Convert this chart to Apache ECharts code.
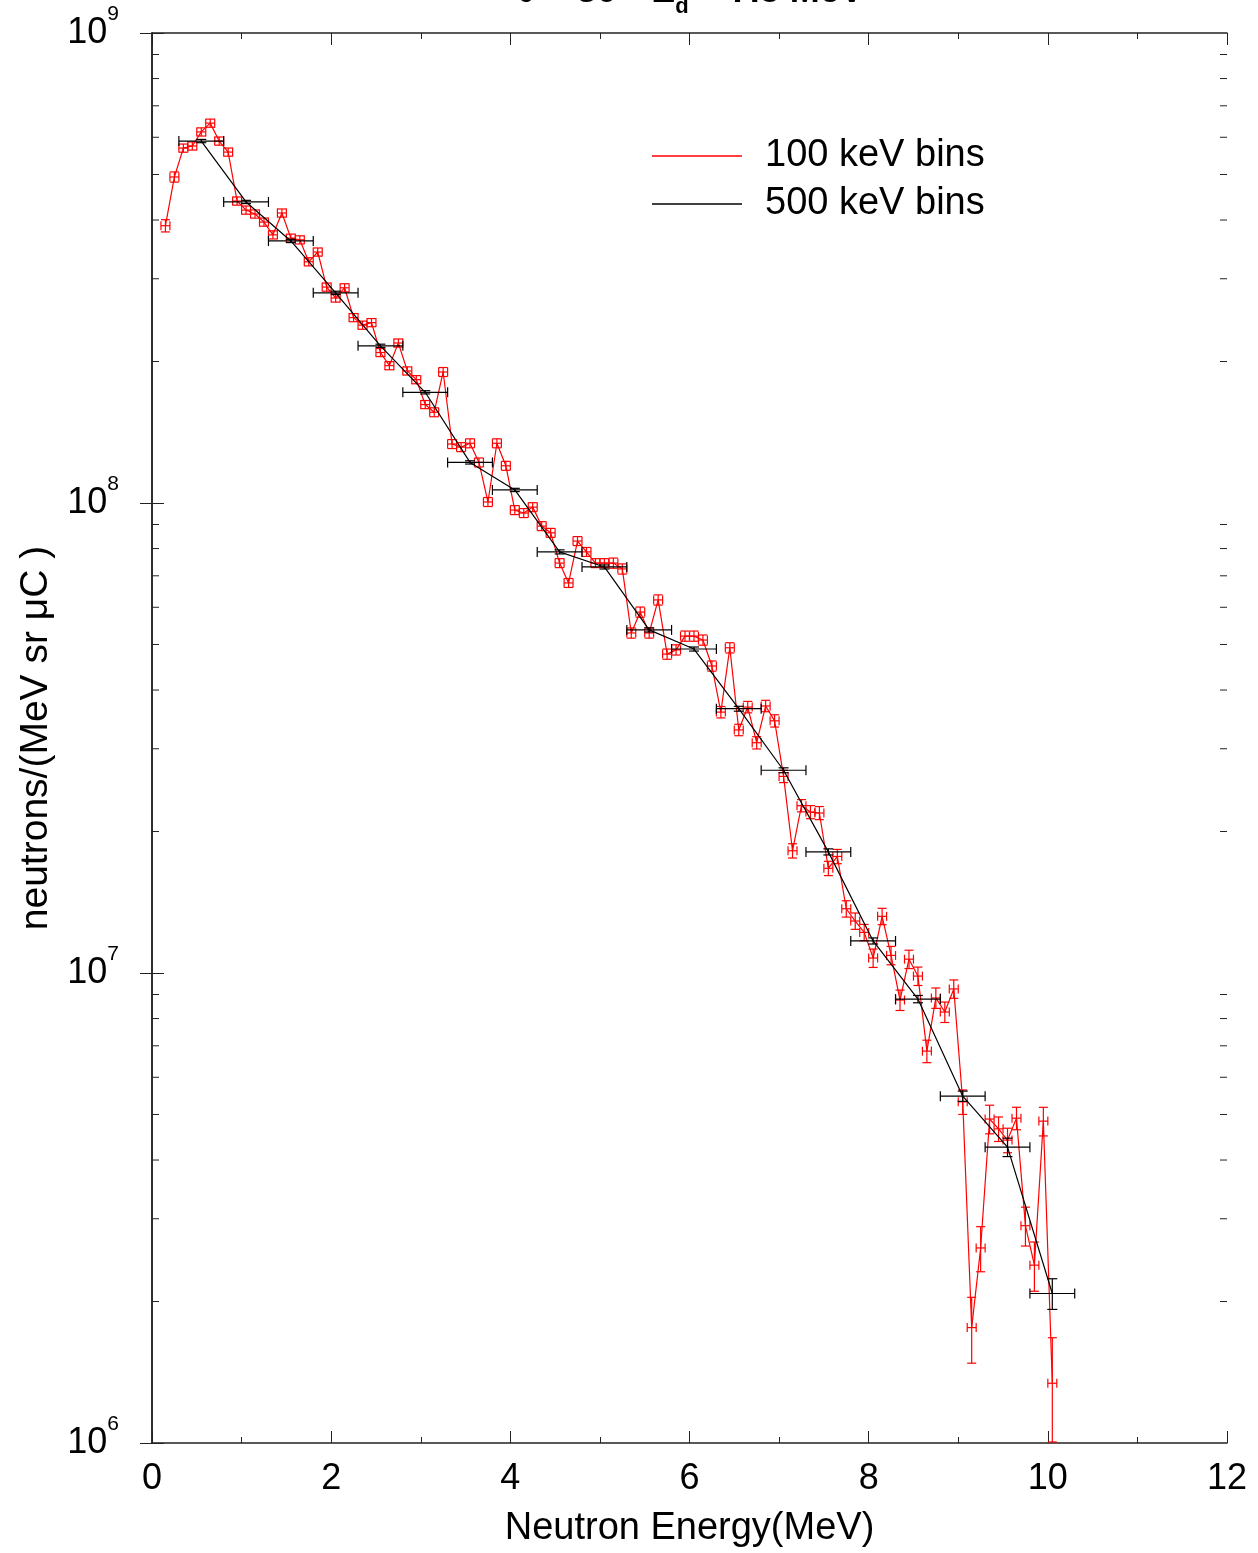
<!DOCTYPE html>
<html>
<head>
<meta charset="utf-8">
<script src="https://cdn.jsdelivr.net/npm/echarts@6/dist/echarts.min.js"></script>
<style>
  html, body { margin: 0; padding: 0; background: #fff; }
  #chart { width: 1258px; height: 1553px; }
</style>
</head>
<body>
<div id="chart"></div>
<script>
// 100 keV bins (red)
const redE = [
  0.15, 0.25, 0.35, 0.45, 0.55, 0.65, 0.75, 0.85, 0.95, 1.05,
  1.15, 1.25, 1.35, 1.45, 1.55, 1.65, 1.75, 1.85, 1.95, 2.05,
  2.15, 2.25, 2.35, 2.45, 2.55, 2.65, 2.75, 2.85, 2.95, 3.05,
  3.15, 3.25, 3.35, 3.45, 3.55, 3.65, 3.75, 3.85, 3.95, 4.05,
  4.15, 4.25, 4.35, 4.45, 4.55, 4.65, 4.75, 4.85, 4.95, 5.05,
  5.15, 5.25, 5.35, 5.45, 5.55, 5.65, 5.75, 5.85, 5.95, 6.05,
  6.15, 6.25, 6.35, 6.45, 6.55, 6.65, 6.75, 6.85, 6.95, 7.05,
  7.15, 7.25, 7.35, 7.45, 7.55, 7.65, 7.75, 7.85, 7.95, 8.05,
  8.15, 8.25, 8.35, 8.45, 8.55, 8.65, 8.75, 8.85, 8.95, 9.05,
  9.15, 9.25, 9.35, 9.45, 9.55, 9.65, 9.75, 9.85, 9.95, 10.05
]
const redY = [
  3.89e8, 4.94e8, 5.69e8, 5.75e8, 6.16e8, 6.43e8, 5.89e8, 5.58e8, 4.39e8, 4.20e8,
  4.12e8, 3.96e8, 3.72e8, 4.14e8, 3.66e8, 3.63e8, 3.26e8, 3.42e8, 2.88e8, 2.73e8,
  2.87e8, 2.48e8, 2.39e8, 2.42e8, 2.09e8, 1.96e8, 2.19e8, 1.91e8, 1.83e8, 1.62e8,
  1.56e8, 1.90e8, 1.335e8, 1.315e8, 1.34e8, 1.22e8, 1.005e8, 1.34e8, 1.20e8, 9.66e7,
  9.52e7, 9.80e7, 8.93e7, 8.64e7, 7.45e7, 6.76e7, 8.30e7, 7.87e7, 7.45e7, 7.45e7,
  7.45e7, 7.24e7, 5.29e7, 5.86e7, 5.29e7, 6.22e7, 4.77e7, 4.87e7, 5.21e7, 5.21e7,
  5.11e7, 4.50e7, 3.59e7, 4.92e7, 3.29e7, 3.68e7, 3.09e7, 3.70e7, 3.44e7, 2.62e7,
  1.82e7, 2.27e7, 2.20e7, 2.19e7, 1.67e7, 1.77e7, 1.37e7, 1.29e7, 1.22e7, 1.076e7,
  1.32e7, 1.09e7, 8.76e6, 1.07e7, 9.85e6, 6.82e6, 8.85e6, 8.26e6, 9.25e6, 5.32e6,
  1.76e6, 2.60e6, 4.89e6, 4.66e6, 4.41e6, 4.91e6, 2.90e6, 2.39e6, 4.84e6, 1.34e6
]
// relative error on each red point
const redRelErr = [
  0.03, 0.025, 0.02, 0.02, 0.02, 0.02, 0.02, 0.02, 0.02, 0.02,
  0.02, 0.02, 0.02, 0.02, 0.02, 0.02, 0.02, 0.02, 0.02, 0.02,
  0.02, 0.02, 0.02, 0.02, 0.02, 0.02, 0.02, 0.02, 0.02, 0.02,
  0.022, 0.022, 0.022, 0.022, 0.022, 0.022, 0.022, 0.022, 0.022, 0.022,
  0.022, 0.022, 0.022, 0.022, 0.022, 0.022, 0.022, 0.022, 0.022, 0.022,
  0.025, 0.025, 0.025, 0.025, 0.025, 0.025, 0.025, 0.025, 0.025, 0.025,
  0.025, 0.025, 0.028, 0.025, 0.028, 0.028, 0.03, 0.028, 0.03, 0.03,
  0.035, 0.03, 0.032, 0.032, 0.035, 0.035, 0.04, 0.04, 0.04, 0.045,
  0.04, 0.045, 0.05, 0.045, 0.045, 0.055, 0.05, 0.05, 0.045, 0.06,
  0.16, 0.11, 0.07, 0.06, 0.06, 0.055, 0.095, 0.12, 0.07, 0.25
]

// 500 keV bins (black)
const blackE = [0.55, 1.05, 1.55, 2.05, 2.55, 3.05, 3.55, 4.05, 4.55, 5.05,
  5.55, 6.05, 6.55, 7.05, 7.55, 8.05, 8.55, 9.05, 9.55, 10.05]
const blackY = [5.89e8, 4.37e8, 3.61e8, 2.80e8, 2.16e8, 1.72e8, 1.22e8, 1.066e8, 7.87e7, 7.31e7,
  5.37e7, 4.89e7, 3.65e7, 2.70e7, 1.81e7, 1.17e7, 8.80e6, 5.47e6, 4.26e6, 2.08e6]
const blackRelErr = [0.008, 0.008, 0.008, 0.008, 0.008, 0.008, 0.008, 0.008, 0.01, 0.01,
  0.01, 0.01, 0.012, 0.012, 0.015, 0.015, 0.018, 0.025, 0.045, 0.075]

// axis ticks
const xTicks = [0, 2, 4, 6, 8, 10, 12]
const yDecades = [1e6, 1e7, 1e8]
const yMinorMult = [2, 3, 4, 5, 6, 7, 8, 9]

const FONT = 'Liberation Sans, Arial, sans-serif'
const xMin = xTicks[0]
const xMax = xTicks[xTicks.length - 1]

const redLine = redE.map((x, i) => [x, redY[i]])
const redErr = redE.map((x, i) => [x, redY[i], redY[i] * redRelErr[i]])
const blackLine = blackE.map((x, i) => [x, blackY[i]])
const blackErr = blackE.map((x, i) => [x, blackY[i], blackY[i] * blackRelErr[i]])
const minorVals = []
yDecades.forEach(d => yMinorMult.forEach(m => minorVals.push([xMin, d * m])))

function errRender(halfX, cap, color) {
  return function(params, api) {
    const x = api.value(0)
    const y = api.value(1)
    const e = api.value(2)
    const l = api.coord([x - halfX, y])
    const r = api.coord([x + halfX, y])
    const t = api.coord([x, y + e])
    const b = api.coord([x, Math.max(y - e, 1e6)])
    const st = { stroke: color, lineWidth: 1.2 }
    const ln = (x1, y1, x2, y2) => ({ type: 'line', shape: { x1, y1, x2, y2 }, style: st })
    return {
      type: 'group',
      children: [
        ln(l[0], l[1], r[0], r[1]),
        ln(l[0], l[1] - cap, l[0], l[1] + cap),
        ln(r[0], r[1] - cap, r[0], r[1] + cap),
        ln(t[0], t[1], b[0], b[1]),
        ln(t[0] - cap, t[1], t[0] + cap, t[1]),
        ln(b[0] - cap, b[1], b[0] + cap, b[1])
      ]
    }
  }
}

const chart = echarts.init(document.getElementById('chart'))
const axisLine = { show: true, lineStyle: { color: '#222', width: 1.5 } }

const option = {
  backgroundColor: '#fff',
  animation: false,
  textStyle: { fontFamily: FONT },
  title: {
    text: '{a|θ = 30°  E}{sub|d}{a| = 7.5 MeV}',
    left: 690,
    textAlign: 'center',
    top: -22,
    padding: 0,
    textStyle: {
      rich: {
        a: { fontSize: 36, fontFamily: FONT, color: '#000', lineHeight: 40, padding: [0, 0, 8, 0], verticalAlign: 'bottom' },
        sub: { fontSize: 22, fontFamily: FONT, color: '#000', lineHeight: 24, verticalAlign: 'bottom' }
      }
    }
  },
  legend: {
    data: ['100 keV bins', '500 keV bins'],
    orient: 'vertical',
    left: 652,
    top: 137,
    padding: 0,
    icon: 'rect',
    itemWidth: 90,
    itemHeight: 1.5,
    itemGap: 10,
    textStyle: { fontSize: 38, fontFamily: FONT, color: '#000', lineHeight: 37, padding: [0, 0, 0, 18] }
  },
  grid: { left: 152, right: 31, top: 33, bottom: 110, containLabel: false },
  xAxis: [
    {
      type: 'value',
      min: xMin,
      max: xMax,
      interval: 2,
      position: 'bottom',
      axisLine,
      axisTick: { inside: true, length: 12, lineStyle: { color: '#222', width: 1 } },
      minorTick: { show: true, splitNumber: 2, length: 6, lineStyle: { color: '#222', width: 1 } },
      splitLine: { show: false },
      axisLabel: { fontSize: 36, fontFamily: FONT, color: '#000', margin: 18 },
      name: 'Neutron Energy(MeV)',
      nameLocation: 'middle',
      nameGap: 67,
      nameTextStyle: { fontSize: 38, fontFamily: FONT, color: '#000' }
    },
    {
      type: 'value',
      min: xMin,
      max: xMax,
      interval: 2,
      position: 'top',
      axisLine,
      axisTick: { inside: true, length: 12, lineStyle: { color: '#222', width: 1 } },
      minorTick: { show: true, splitNumber: 2, length: 6, lineStyle: { color: '#222', width: 1 } },
      splitLine: { show: false },
      axisLabel: { show: false }
    }
  ],
  yAxis: [
    {
      type: 'log',
      logBase: 10,
      min: 1e6,
      max: 1e9,
      position: 'left',
      axisLine,
      axisTick: { inside: true, length: 12, lineStyle: { color: '#222', width: 1 } },
      splitLine: { show: false },
      axisLabel: {
        margin: 33,
        formatter: v => '{b|10}{s|' + Math.round(Math.log10(v)) + '}',
        rich: {
          b: { fontSize: 36, fontFamily: FONT, color: '#000', lineHeight: 36, verticalAlign: 'bottom' },
          s: { fontSize: 21, fontFamily: FONT, color: '#000', lineHeight: 20, padding: [0, 0, 26, 0], verticalAlign: 'bottom' }
        }
      },
      name: 'neutrons/(MeV sr μC )',
      nameLocation: 'middle',
      nameGap: 96,
      nameTextStyle: { fontSize: 39, fontFamily: FONT, color: '#000' }
    },
    {
      type: 'log',
      logBase: 10,
      min: 1e6,
      max: 1e9,
      position: 'right',
      axisLine,
      axisTick: { inside: true, length: 12, lineStyle: { color: '#222', width: 1 } },
      splitLine: { show: false },
      axisLabel: { show: false }
    }
  ],
  series: [
    {
      name: 'y-minor-ticks',
      type: 'custom',
      silent: true,
      data: minorVals,
      encode: { x: 0, y: 1 },
      renderItem: function(params, api) {
        const v = api.value(1)
        const a = api.coord([xMin, v])
        const b = api.coord([xMax, v])
        const st = { stroke: '#222', lineWidth: 1 }
        return {
          type: 'group',
          children: [
            { type: 'line', shape: { x1: a[0], y1: a[1], x2: a[0] + 7, y2: a[1] }, style: st },
            { type: 'line', shape: { x1: b[0] - 7, y1: b[1], x2: b[0], y2: b[1] }, style: st }
          ]
        }
      }
    },
    {
      name: '100 keV bins',
      type: 'line',
      data: redLine,
      showSymbol: false,
      itemStyle: { color: '#ff0000' },
      lineStyle: { color: '#ff0000', width: 1.2 },
      z: 3
    },
    {
      name: 'red-err',
      type: 'custom',
      silent: true,
      data: redErr,
      encode: { x: 0, y: 1 },
      renderItem: errRender(0.05, 4.5, '#ff0000'),
      z: 3
    },
    {
      name: '500 keV bins',
      type: 'line',
      data: blackLine,
      showSymbol: false,
      itemStyle: { color: '#000000' },
      lineStyle: { color: '#000000', width: 1.2 },
      z: 4
    },
    {
      name: 'black-err',
      type: 'custom',
      silent: true,
      data: blackErr,
      encode: { x: 0, y: 1 },
      renderItem: errRender(0.25, 5, '#000000'),
      z: 4
    }
  ]
}

chart.setOption(option)
</script>
</body>
</html>
